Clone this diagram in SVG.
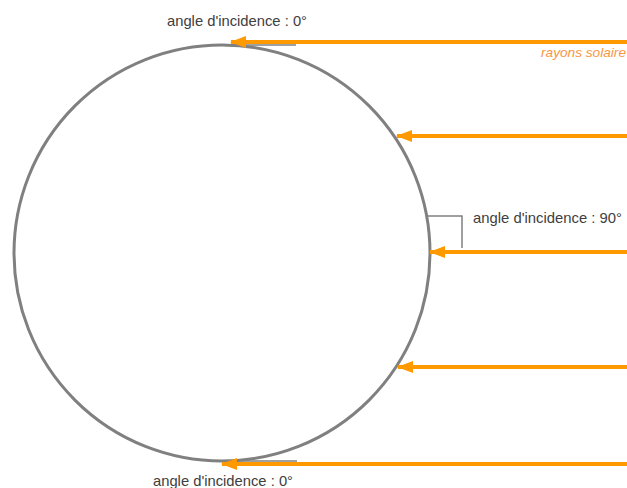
<svg xmlns="http://www.w3.org/2000/svg" width="627" height="488" viewBox="0 0 627 488">
  <style>
    .earth { fill: none; stroke: #808080; stroke-width: 3; }
    .guide { fill: none; stroke: #808080; stroke-width: 1.5; }
    .ray { stroke: #FF9900; stroke-width: 4; fill: none; }
    .label { font-family: "Liberation Sans", Arial, sans-serif; font-size: 14.5px; fill: #404040; }
    .legend { font-family: "Liberation Sans", Arial, sans-serif; font-size: 13px; font-style: italic; fill: #F79646; }
  </style>
  <defs>
    <marker id="head" markerUnits="userSpaceOnUse" markerWidth="16" markerHeight="12" refX="15" refY="6" orient="auto">
      <path d="M16,6 L0,0 L0,12 Z" fill="#FF9900"/>
    </marker>
  </defs>

  <g id="earth">
    <circle class="earth" cx="222" cy="253" r="208"/>
  </g>

  <g id="guides">
    <!-- tangents at the poles -->
    <line class="guide" x1="222" y1="45" x2="296" y2="45"/>
    <line class="guide" x1="222" y1="461" x2="297" y2="461"/>
    <!-- right-angle mark at the equator -->
    <polyline class="guide" points="428,216 462,216 462,248"/>
  </g>

  <g id="connectors">
    <line class="ray" x1="627" y1="42" x2="231" y2="42" marker-end="url(#head)"/>
    <line class="ray" x1="627" y1="136" x2="397" y2="136" marker-end="url(#head)"/>
    <line class="ray" x1="627" y1="252" x2="430" y2="252" marker-end="url(#head)"/>
    <line class="ray" x1="627" y1="367" x2="398" y2="367" marker-end="url(#head)"/>
    <line class="ray" x1="627" y1="464" x2="222" y2="464" marker-end="url(#head)"/>
  </g>

  <g id="labels">
    <text class="label" x="167" y="26" textLength="140" lengthAdjust="spacingAndGlyphs">angle d'incidence : 0°</text>
    <text class="label" x="473" y="223" textLength="149" lengthAdjust="spacingAndGlyphs">angle d'incidence : 90°</text>
    <text class="label" x="153" y="486" textLength="140" lengthAdjust="spacingAndGlyphs">angle d'incidence : 0°</text>
    <text class="legend" x="541" y="57" textLength="85" lengthAdjust="spacingAndGlyphs">rayons solaire</text>
  </g>
</svg>
